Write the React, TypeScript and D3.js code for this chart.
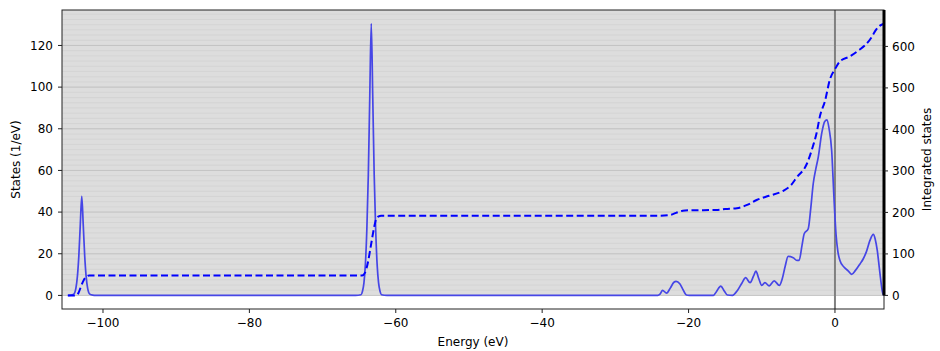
import * as d3 from "d3";
import { useEffect, useRef } from "react";

// density of states (solid line), energies in eV
const dosEnergy = [
  -104.8, -104.4, -104.0, -103.7, -103.5, -103.3, -103.1, -102.9, -102.7, -102.5, -102.3, -102.1, -101.8, -101.4, -101.0,
  -65.5, -64.75, -64.55, -64.35, -64.15, -63.95, -63.75, -63.55, -63.35, -63.15, -62.95, -62.75, -62.55, -62.35, -62.15, -61.95, -61.2,
  -24.2, -23.9, -23.55, -23.0, -22.5, -22.0, -21.7, -21.2, -20.8, -20.3, -19.9,
  -16.6, -16.2, -15.6, -15.1, -14.7, -14.0, -13.3, -12.7, -12.2, -11.6, -11.1, -10.8, -10.4, -10.0,
  -9.57, -8.98, -8.3, -7.6, -7.2, -6.8, -6.4, -5.7, -5.2, -4.9, -4.5, -4.2, -3.65, -3.3, -2.97, -2.6, -2.28,
  -1.8, -1.4, -1.09, -0.8, -0.45, -0.15, 0.14, 0.4, 0.68, 1.23, 1.8, 2.28, 2.8, 3.4, 3.87, 4.3, 4.78, 5.24,
  5.5, 5.78, 6.1, 6.52, 6.7,
];
const dosValue = [
  0, 0.1, 0.6, 3.5, 9, 19, 34, 47.5, 34, 19, 9, 3.5, 0.6, 0.1, 0,
  0, 0.3, 2, 6, 15, 32, 58, 96, 130.5, 96, 58, 32, 15, 6, 2, 0.3, 0,
  0, 0.6, 2.4, 1.1, 3.5, 6.3, 6.7, 5.6, 3, 0.2, 0,
  0, 1.8, 4.5, 2, 0.2, 0, 2.5, 6, 8.5, 6.1, 9.5, 11.7, 8, 4.8,
  6.1, 4.6, 7.0, 4.8, 8, 14, 18.7, 18.1, 16.8, 16.8, 24, 29.6, 32, 42, 53.6, 61, 66.4,
  78, 83.5, 84.3, 80, 69.6, 48, 29.6, 21, 16.8, 13.6, 11.8, 10.1, 12, 15, 17.6, 21, 26.4, 29.3,
  27, 21.6, 12, 1.1, 0,
];

// integrated states (dashed line)
const intEnergy = [
  -104.8, -103.6, -103.3, -103.0, -102.6, -102.2, -101.9,
  -64.6, -64.2, -63.8, -63.4, -63.0, -62.7, -62.4, -62.0,
  -24.2, -22.5, -21.7, -20.8, -20.0, -16.0, -15.0, -13.4, -12.0, -10.7, -9.0, -7.07, -6.0, -5.24, -3.87,
  -3.0, -2.5, -2.05, -1.37, -0.68, 0, 0.68, 2.05, 3.2, 4.24, 5.0, 5.6, 6.15, 6.7,
];
const intValue = [
  0, 0, 8, 22, 38, 46, 48,
  48, 55, 80, 120, 160, 183, 190, 192,
  192, 194, 199, 204, 205, 206, 208, 210, 218, 230, 240, 252, 266, 284, 316,
  360, 392, 432, 468, 521, 545, 564, 576, 590, 605, 622, 640, 650, 655,
];

const xTicks = [-100, -80, -60, -40, -20, 0];
const yLeftTicks = [0, 20, 40, 60, 80, 100, 120];
const yRightTicks = [0, 100, 200, 300, 400, 500, 600];

const W = 940;
const H = 351;
const FONT = "DejaVu Sans, sans-serif";

export default function App() {
  const ref = useRef<SVGSVGElement>(null);

  useEffect(() => {
    const svg = d3.select(ref.current);
    svg.selectAll("*").remove();

    const m = { left: 62, right: 884, top: 10, bottom: 309 };

    const x = d3.scaleLinear().domain([-105.6, 6.7]).range([m.left, m.right]);
    const dosMax = d3.max(dosValue) as number;
    const intMax = d3.max(intValue) as number;
    const y = d3
      .scaleLinear()
      .domain([-dosMax * 0.05, dosMax * 1.05])
      .range([m.bottom, m.top]);
    const y2 = d3
      .scaleLinear()
      .domain([-intMax * 0.05, intMax * 1.05])
      .range([m.bottom, m.top]);

    svg
      .append("defs")
      .append("clipPath")
      .attr("id", "plot-clip")
      .append("rect")
      .attr("x", m.left)
      .attr("y", m.top)
      .attr("width", m.right - m.left)
      .attr("height", m.bottom - m.top);

    // gray band above zero
    svg
      .append("rect")
      .attr("x", m.left)
      .attr("y", m.top)
      .attr("width", m.right - m.left)
      .attr("height", y(0) - m.top)
      .attr("fill", "#dddddd");

    svg
      .append("g")
      .selectAll("line")
      .data(d3.range(2.5, y.domain()[1], 2.5))
      .join("line")
      .attr("x1", m.left)
      .attr("x2", m.right)
      .attr("y1", (d) => y(d))
      .attr("y2", (d) => y(d))
      .attr("stroke", "#d2d2d2")
      .attr("stroke-width", 0.8);

    svg
      .append("g")
      .selectAll("line")
      .data(yLeftTicks)
      .join("line")
      .attr("x1", m.left)
      .attr("x2", m.right)
      .attr("y1", (d) => y(d))
      .attr("y2", (d) => y(d))
      .attr("stroke", "#c4c4c4")
      .attr("stroke-width", 1);

    // fermi level
    svg
      .append("line")
      .attr("x1", x(0))
      .attr("x2", x(0))
      .attr("y1", m.top)
      .attr("y2", m.bottom)
      .attr("stroke", "#808080")
      .attr("stroke-width", 2);

    const plot = svg.append("g").attr("clip-path", "url(#plot-clip)");

    const dosLine = d3
      .line<number>()
      .x((d) => x(d))
      .y((_, i) => y(dosValue[i]))
      .curve(d3.curveMonotoneX);

    plot
      .append("path")
      .attr("d", dosLine(dosEnergy))
      .attr("fill", "none")
      .attr("stroke", "#4646e6")
      .attr("stroke-width", 1.7);

    const intLine = d3
      .line<number>()
      .x((d) => x(d))
      .y((_, i) => y2(intValue[i]))
      .curve(d3.curveMonotoneX);

    plot
      .append("path")
      .attr("d", intLine(intEnergy))
      .attr("fill", "none")
      .attr("stroke", "#0000ff")
      .attr("stroke-width", 2)
      .attr("stroke-dasharray", "7,3.5");

    // frame
    svg
      .append("rect")
      .attr("x", m.left)
      .attr("y", m.top)
      .attr("width", m.right - m.left)
      .attr("height", m.bottom - m.top)
      .attr("fill", "none")
      .attr("stroke", "#222")
      .attr("stroke-width", 1);

    svg
      .append("line")
      .attr("x1", m.right)
      .attr("x2", m.right)
      .attr("y1", m.top)
      .attr("y2", y2(0))
      .attr("stroke", "#000")
      .attr("stroke-width", 3);

    const fmt = (v: number) => (v < 0 ? "\u2212" + Math.abs(v) : String(v));

    const xAxis = svg.append("g");
    xAxis
      .selectAll("line")
      .data(xTicks)
      .join("line")
      .attr("x1", (d) => x(d))
      .attr("x2", (d) => x(d))
      .attr("y1", m.bottom)
      .attr("y2", m.bottom + 4)
      .attr("stroke", "#222");
    xAxis
      .selectAll("text")
      .data(xTicks)
      .join("text")
      .attr("x", (d) => x(d))
      .attr("y", m.bottom + 18)
      .attr("text-anchor", "middle")
      .attr("font-family", FONT)
      .attr("font-size", 12)
      .text(fmt);

    const yAxis = svg.append("g");
    yAxis
      .selectAll("line")
      .data(yLeftTicks)
      .join("line")
      .attr("x1", m.left - 4)
      .attr("x2", m.left)
      .attr("y1", (d) => y(d))
      .attr("y2", (d) => y(d))
      .attr("stroke", "#222");
    yAxis
      .selectAll("text")
      .data(yLeftTicks)
      .join("text")
      .attr("x", m.left - 9)
      .attr("y", (d) => y(d))
      .attr("dy", "0.35em")
      .attr("text-anchor", "end")
      .attr("font-family", FONT)
      .attr("font-size", 12)
      .text(fmt);

    const yAxis2 = svg.append("g");
    yAxis2
      .selectAll("line")
      .data(yRightTicks)
      .join("line")
      .attr("x1", m.right)
      .attr("x2", m.right + 4)
      .attr("y1", (d) => y2(d))
      .attr("y2", (d) => y2(d))
      .attr("stroke", "#222");
    yAxis2
      .selectAll("text")
      .data(yRightTicks)
      .join("text")
      .attr("x", m.right + 8)
      .attr("y", (d) => y2(d))
      .attr("dy", "0.35em")
      .attr("text-anchor", "start")
      .attr("font-family", FONT)
      .attr("font-size", 12)
      .text(fmt);

    svg
      .append("text")
      .attr("x", (m.left + m.right) / 2)
      .attr("y", 346)
      .attr("text-anchor", "middle")
      .attr("font-family", FONT)
      .attr("font-size", 12)
      .text("Energy (eV)");

    svg
      .append("text")
      .attr("transform", `translate(20,${(m.top + m.bottom) / 2}) rotate(-90)`)
      .attr("text-anchor", "middle")
      .attr("font-family", FONT)
      .attr("font-size", 12)
      .text("States (1/eV)");

    svg
      .append("text")
      .attr("transform", `translate(931,${(m.top + m.bottom) / 2}) rotate(-90)`)
      .attr("text-anchor", "middle")
      .attr("font-family", FONT)
      .attr("font-size", 12)
      .text("Integrated states");
  }, []);

  return (
    <div style={{ position: "absolute", left: 0, top: 0 }}>
      <svg ref={ref} width={W} height={H} style={{ display: "block", background: "#fff" }} />
    </div>
  );
}
